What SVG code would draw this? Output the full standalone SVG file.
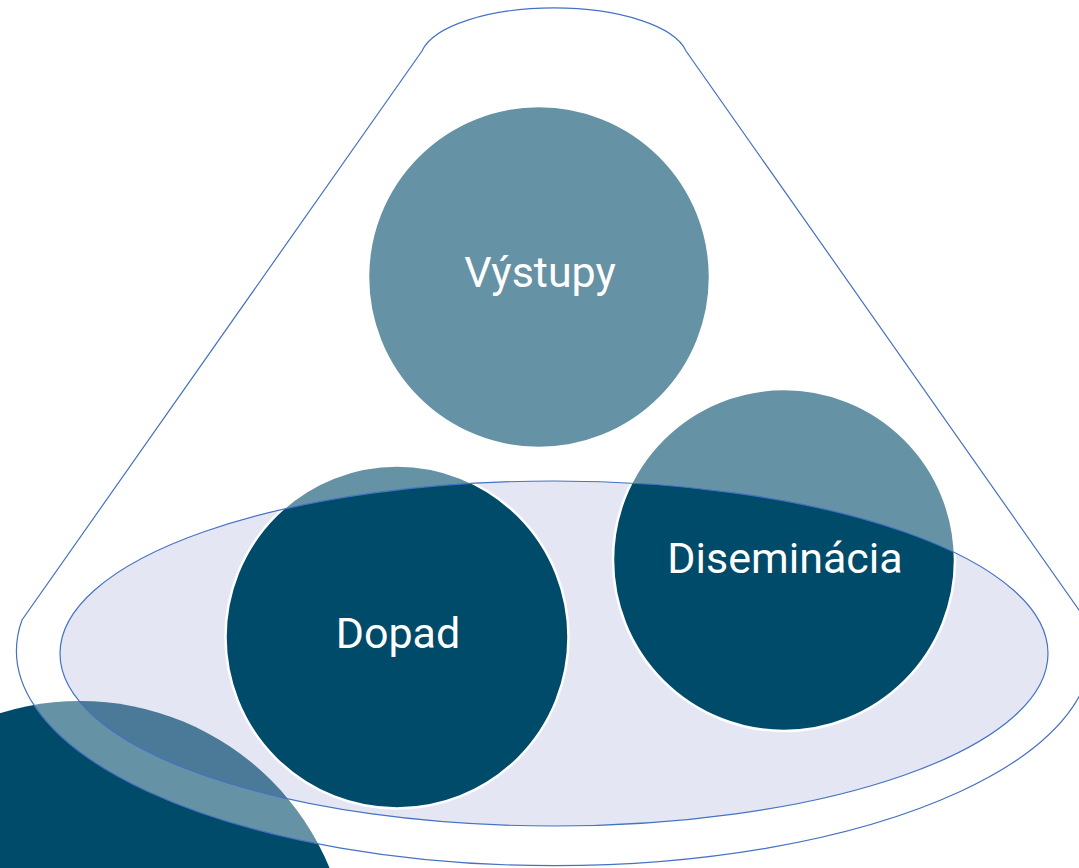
<svg xmlns="http://www.w3.org/2000/svg" width="1079" height="868" viewBox="0 0 1079 868">
  <style>
    .node { fill: #004a6a; stroke: #ffffff; stroke-width: 2.5; }
    .label { font-family: Roboto, "Liberation Sans", sans-serif; font-size: 43px; fill: #ffffff; text-anchor: middle; }
    .outline { stroke: #4472c4; stroke-width: 1.2; }
  </style>
  <rect width="1079" height="868" fill="#ffffff"/>
  <g id="corner-circle">
    <circle cx="80" cy="971" r="270" fill="#004a6a"/>
  </g>
  <g id="base-ellipse">
    <ellipse cx="554" cy="653.5" rx="494" ry="172.5" fill="#bbc3e1" fill-opacity="0.4"/>
  </g>
  <g id="node-vystupy">
    <circle class="node" cx="539" cy="277" r="171"/>
  </g>
  <g id="node-dopad">
    <circle class="node" cx="397" cy="637" r="171.5"/>
  </g>
  <g id="node-diseminacia">
    <circle class="node" cx="784" cy="560" r="171"/>
  </g>
  <g id="cone">
    <path class="outline" fill="#ffffff" fill-opacity="0.4" fill-rule="evenodd"
      d="M 422 51 A 134 52 0 0 1 686 51 L 1086 620 A 537.5 215 0 1 1 22 620 Z
         M 60 653.5 A 494 172.5 0 1 0 1048 653.5 A 494 172.5 0 1 0 60 653.5 Z"/>
  </g>
  <g id="labels">
    <text class="label" x="540" y="287">Výstupy</text>
    <text class="label" x="398" y="648">Dopad</text>
    <text class="label" x="785" y="573">Diseminácia</text>
  </g>
</svg>
